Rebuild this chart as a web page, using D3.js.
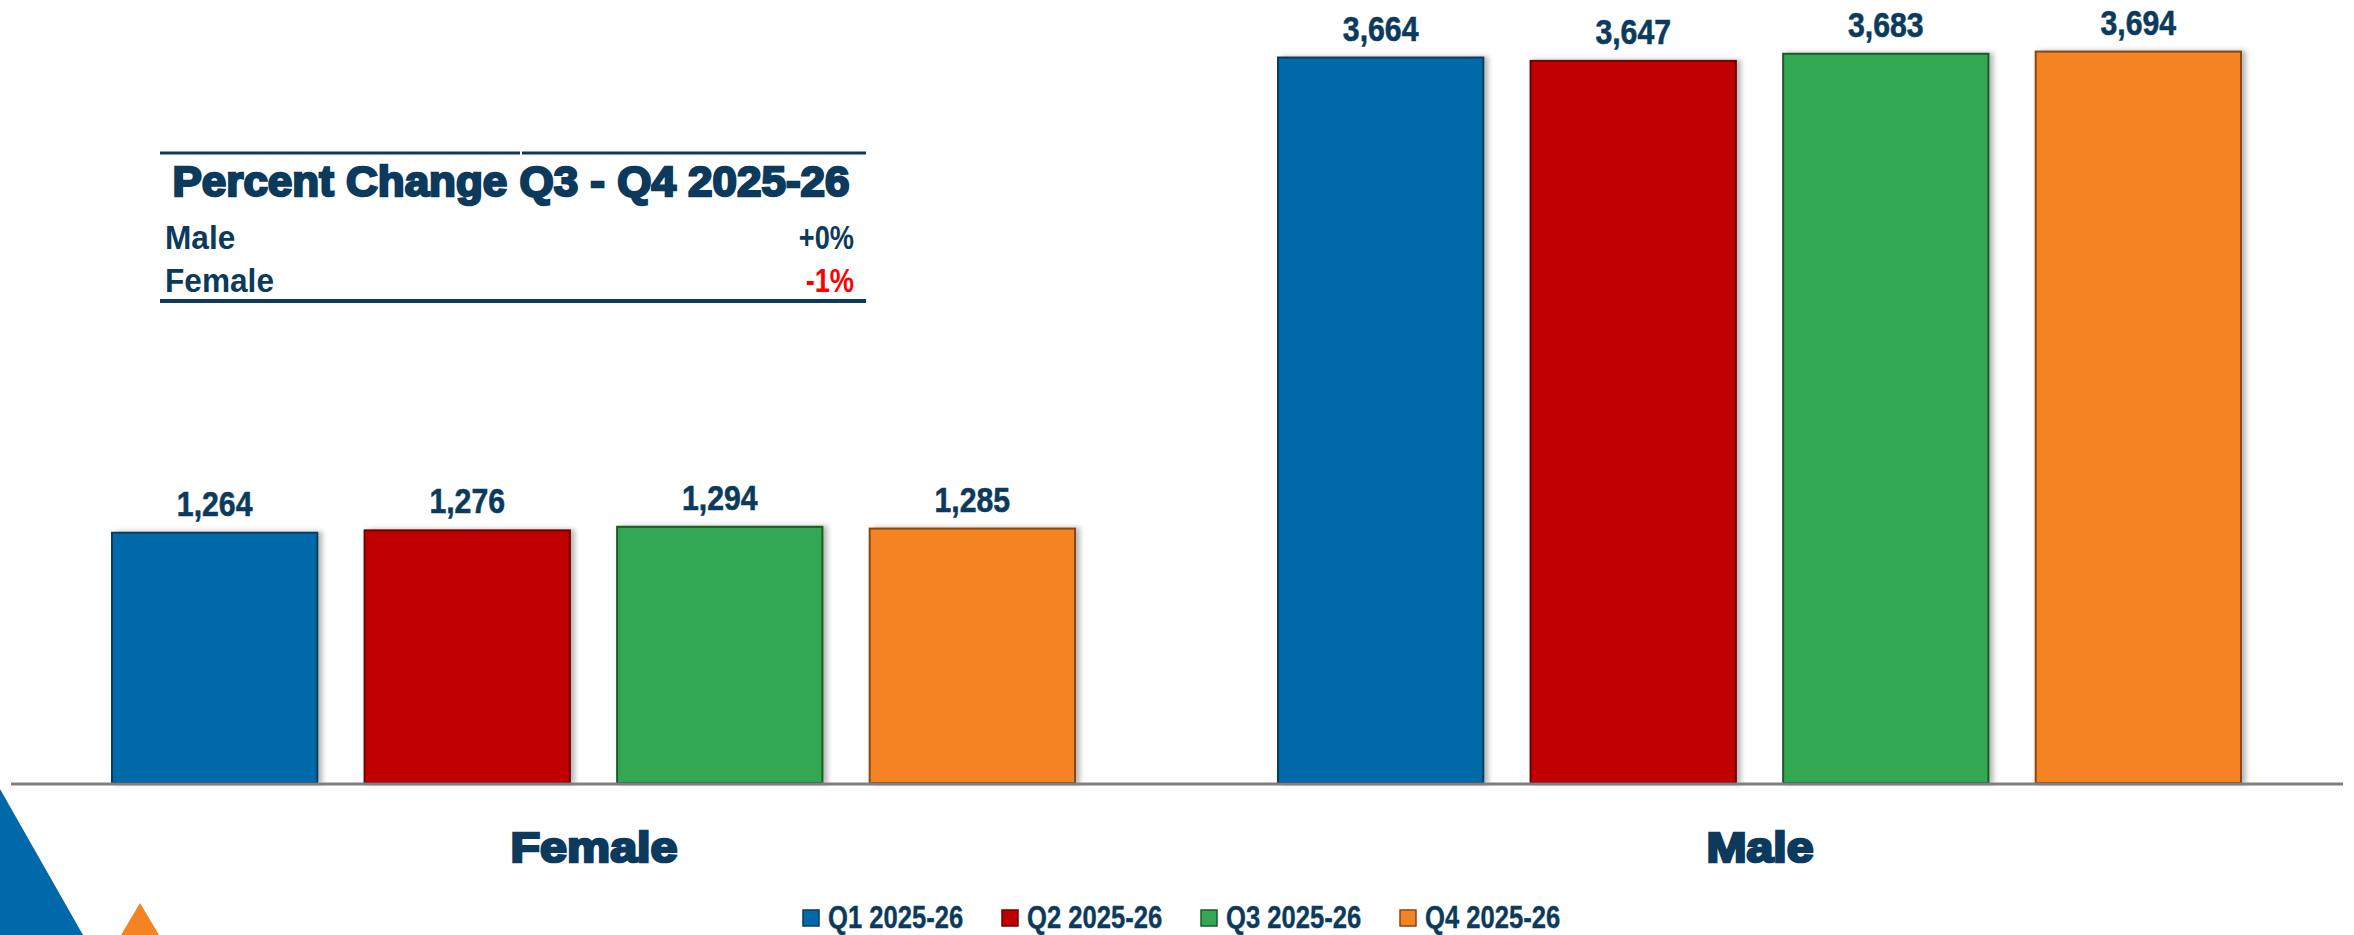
<!DOCTYPE html>
<html>
<head>
<meta charset="utf-8">
<script src="https://cdn.jsdelivr.net/npm/d3@7"></script>
<style>
body { margin: 0; background: #fff; }
svg { display: block; }
.narrow { font-family: "Liberation Sans", Arial, sans-serif; font-weight: bold; }
.heavy { font-family: "Liberation Sans", Arial, sans-serif; font-weight: bold; }
</style>
</head>
<body>
<script>
var width = 2354,
    height = 935;

var groups = ["Female", "Male"];
var quarters = ["Q1 2025-26", "Q2 2025-26", "Q3 2025-26", "Q4 2025-26"];
var femaleValues = [1264, 1276, 1294, 1285];
var maleValues = [3664, 3647, 3683, 3694];
var changeLabels = ["Male", "Female"];
var changeValues = ["+0%", "-1%"];

var fills = ["#0069aa", "#c00000", "#32a852", "#f48322"],
    strokes = ["#0b3a5c", "#6e0000", "#1d5a2c", "#8a4512"],
    navy = "#0b3a5c";

var seriesByGroup = {Female: femaleValues, Male: maleValues};

// no narrow face installed, so squeeze the bold one
function squeeze(x, y, sx) {
    return "translate(" + x + "," + y + ")scale(" + sx + ",1)";
}

var svg = d3.select("body").append("svg")
    .attr("width", width)
    .attr("height", height);

var defs = svg.append("defs");
defs.append("filter")
    .attr("id", "shadow")
    .attr("x", "-10%").attr("y", "-10%")
    .attr("width", "130%").attr("height", "130%")
  .append("feDropShadow")
    .attr("dx", 4).attr("dy", 0)
    .attr("stdDeviation", 2.5)
    .attr("flood-color", "#000")
    .attr("flood-opacity", 0.28);

var x0 = d3.scaleBand()
    .domain(groups)
    .range([11, 2343])
    .padding(0);

var x1 = d3.scaleBand()
    .domain(quarters)
    .range([101, 1064])
    .paddingInner(0.187)
    .paddingOuter(0);

var y = d3.scaleLinear()
    .domain([0, 4000])
    .range([783, -9]);

// decorative corner triangles
svg.append("path")
    .attr("d", "M0,789L83,935L0,935Z")
    .attr("fill", "#0069aa");
svg.append("path")
    .attr("d", "M140,903L121,935L159,935Z")
    .attr("fill", "#f48322");

var g = svg.selectAll("g.group")
    .data(groups)
  .enter().append("g")
    .attr("class", "group")
    .attr("transform", function(d) { return "translate(" + x0(d) + ",0)"; });

var bars = g.selectAll("g.bar")
    .data(function(d) {
        return quarters.map(function(q, i) { return {q: q, i: i, v: seriesByGroup[d][i]}; });
    })
  .enter().append("g")
    .attr("class", "bar");

bars.append("rect")
    .attr("x", function(d) { return x1(d.q); })
    .attr("y", function(d) { return y(d.v); })
    .attr("width", x1.bandwidth())
    .attr("height", function(d) { return y(0) - y(d.v); })
    .attr("fill", function(d) { return fills[d.i]; })
    .attr("stroke", function(d) { return strokes[d.i]; })
    .attr("stroke-width", 2)
    .attr("filter", "url(#shadow)");

bars.append("text")
    .attr("class", "narrow")
    .attr("transform", function(d) { return squeeze(x1(d.q) + x1.bandwidth() / 2, y(d.v) - 17, 0.84); })
    .attr("text-anchor", "middle")
    .attr("font-size", 36)
    .attr("fill", navy)
    .attr("stroke", navy)
    .attr("stroke-width", 0.6)
    .text(function(d) { return d3.format(",")(d.v); });

// baseline
svg.append("line")
    .attr("x1", x0.range()[0]).attr("x2", x0.range()[1])
    .attr("y1", y(0) + 1).attr("y2", y(0) + 1)
    .attr("stroke", "#7f7f7f")
    .attr("stroke-width", 3);

// category labels
svg.selectAll("text.cat")
    .data(groups)
  .enter().append("text")
    .attr("class", "cat heavy")
    .attr("x", function(d) { return x0(d) + x0.bandwidth() / 2; })
    .attr("y", 862)
    .attr("text-anchor", "middle")
    .attr("font-size", 42)
    .attr("fill", navy)
    .attr("stroke", navy)
    .attr("stroke-width", 2.6)
    .attr("textLength", function(d) { return d === "Female" ? 167 : 107; })
    .attr("lengthAdjust", "spacingAndGlyphs")
    .text(function(d) { return d; });

// legend
var legend = svg.append("g")
    .attr("transform", "translate(803,0)");

var item = legend.selectAll("g")
    .data(quarters)
  .enter().append("g")
    .attr("transform", function(d, i) { return "translate(" + (i * 199) + ",0)"; });

item.append("rect")
    .attr("x", 0).attr("y", 910)
    .attr("width", 16).attr("height", 16)
    .attr("fill", function(d, i) { return fills[i]; })
    .attr("stroke", function(d, i) { return strokes[i]; })
    .attr("stroke-width", 1.5);

item.append("text")
    .attr("class", "narrow")
    .attr("transform", squeeze(25, 928, 0.8))
    .attr("font-size", 32)
    .attr("fill", navy)
    .attr("stroke", navy)
    .attr("stroke-width", 0.4)
    .text(function(d) { return d; });

// percent change table
var table = svg.append("g");

table.append("line")
    .attr("x1", 160).attr("x2", 520)
    .attr("y1", 153).attr("y2", 153)
    .attr("stroke", navy).attr("stroke-width", 3);
table.append("line")
    .attr("x1", 522).attr("x2", 866)
    .attr("y1", 153).attr("y2", 153)
    .attr("stroke", navy).attr("stroke-width", 3);
table.append("line")
    .attr("x1", 160).attr("x2", 866)
    .attr("y1", 301).attr("y2", 301)
    .attr("stroke", navy).attr("stroke-width", 4);

table.append("text")
    .attr("class", "heavy")
    .attr("x", 511).attr("y", 196)
    .attr("text-anchor", "middle")
    .attr("font-size", 42)
    .attr("fill", navy)
    .attr("stroke", navy)
    .attr("stroke-width", 2.4)
    .attr("textLength", 677)
    .attr("lengthAdjust", "spacingAndGlyphs")
    .text("Percent Change Q3 - Q4 2025-26");

var rows = table.selectAll("g.row")
    .data(changeLabels)
  .enter().append("g")
    .attr("class", "row")
    .attr("transform", function(d, i) { return "translate(0," + (249 + i * 43) + ")"; });

rows.append("text")
    .attr("class", "narrow")
    .attr("transform", squeeze(165, 0, 0.93))
    .attr("font-size", 34)
    .attr("fill", navy)
    .text(function(d) { return d; });

rows.append("text")
    .attr("class", "narrow")
    .attr("transform", squeeze(854, 0, 0.8))
    .attr("text-anchor", "end")
    .attr("font-size", 34)
    .attr("fill", function(d, i) { return changeValues[i].charAt(0) === "-" ? "#ff0000" : navy; })
    .text(function(d, i) { return changeValues[i]; });
</script>
</body>
</html>
